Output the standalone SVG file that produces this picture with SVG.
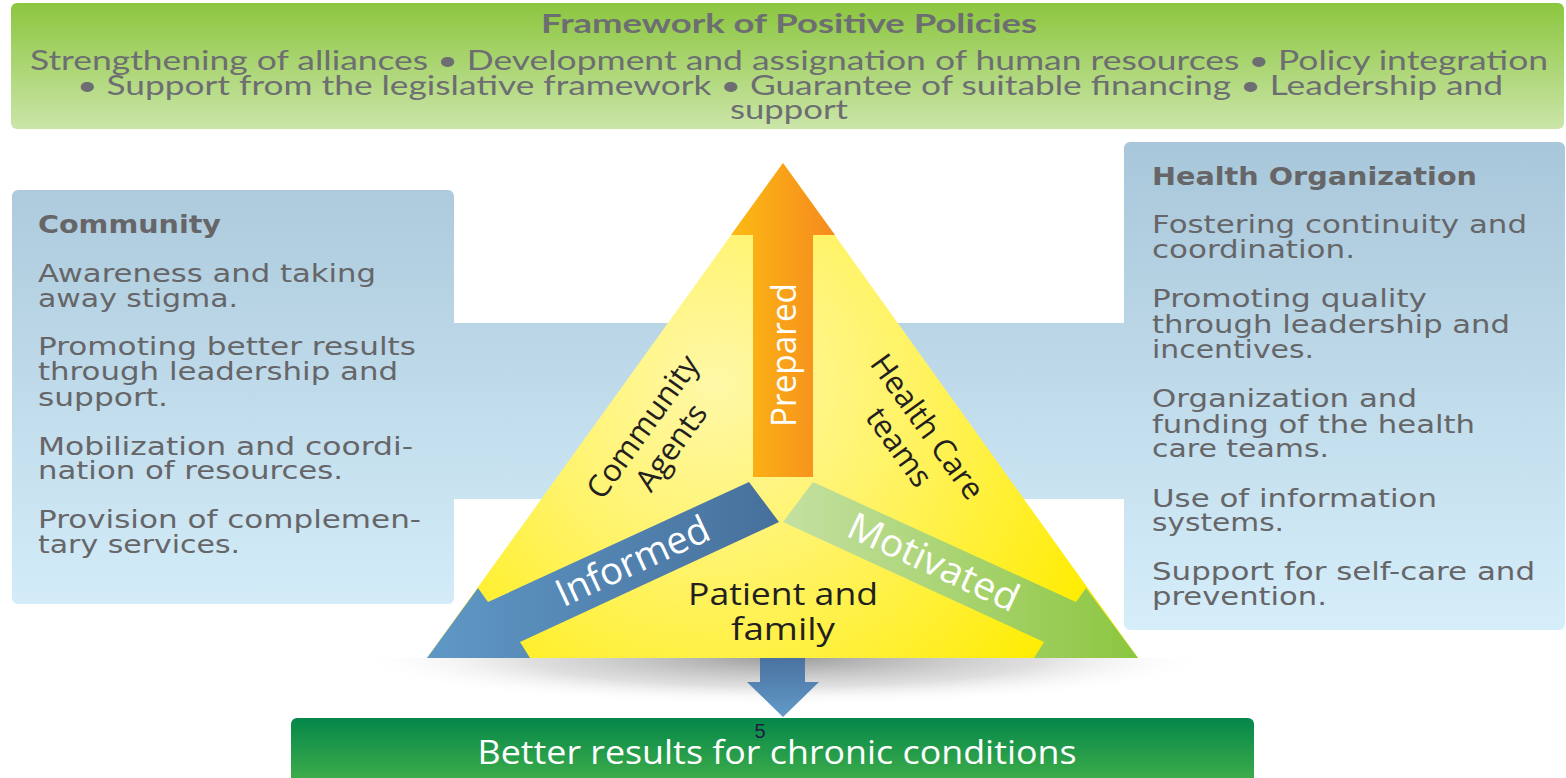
<svg xmlns="http://www.w3.org/2000/svg" width="1566" height="778" viewBox="0 0 1566 778">
  <defs>
    <linearGradient id="gBanner" x1="0" y1="0" x2="0" y2="1">
      <stop offset="0" stop-color="#8cc63f"/>
      <stop offset="1" stop-color="#cbe5a8"/>
    </linearGradient>
    <linearGradient id="gSide" gradientUnits="userSpaceOnUse" x1="0" y1="142" x2="0" y2="630">
      <stop offset="0" stop-color="#a8c7da"/>
      <stop offset="1" stop-color="#d6eefa"/>
    </linearGradient>
    <radialGradient id="gTri" gradientUnits="userSpaceOnUse" cx="715" cy="385" r="430">
      <stop offset="0" stop-color="#fff8a8"/>
      <stop offset="0.45" stop-color="#fff366"/>
      <stop offset="1" stop-color="#ffec00"/>
    </radialGradient>
    <linearGradient id="gOrange" gradientUnits="userSpaceOnUse" x1="731" y1="0" x2="835" y2="0">
      <stop offset="0" stop-color="#fdba13"/>
      <stop offset="1" stop-color="#f58a1f"/>
    </linearGradient>
    <linearGradient id="gBlue" gradientUnits="userSpaceOnUse" x1="427" y1="0" x2="779" y2="0">
      <stop offset="0" stop-color="#5f98c6"/>
      <stop offset="1" stop-color="#47709c"/>
    </linearGradient>
    <linearGradient id="gGreen" gradientUnits="userSpaceOnUse" x1="783" y1="0" x2="1138" y2="0">
      <stop offset="0" stop-color="#c4e0a2"/>
      <stop offset="1" stop-color="#8cc63f"/>
    </linearGradient>
    <linearGradient id="gDown" gradientUnits="userSpaceOnUse" x1="0" y1="658" x2="0" y2="717">
      <stop offset="0" stop-color="#4a72a0"/>
      <stop offset="1" stop-color="#629ac9"/>
    </linearGradient>
    <linearGradient id="gResult" gradientUnits="userSpaceOnUse" x1="0" y1="718" x2="0" y2="778">
      <stop offset="0" stop-color="#04874a"/>
      <stop offset="1" stop-color="#3cab4a"/>
    </linearGradient>
    <radialGradient id="gShadow" gradientUnits="userSpaceOnUse" cx="783" cy="658" r="430" gradientTransform="translate(0 658) scale(1 0.11) translate(0 -658)">
      <stop offset="0" stop-color="#8a8a8a" stop-opacity="0.85"/>
      <stop offset="0.6" stop-color="#b8b8b8" stop-opacity="0.45"/>
      <stop offset="1" stop-color="#ffffff" stop-opacity="0"/>
    </radialGradient>
    <clipPath id="belowBase">
      <rect x="0" y="658" width="1566" height="60"/>
    </clipPath>
  </defs>
  <style>
    .bannerTxt { font-family: Lato, "Open Sans", sans-serif; font-size: 26px; fill: #6d6e71; }
    .bannerTitle { font-family: Lato, "Open Sans", sans-serif; font-size: 27px; font-weight: bold; fill: #6d6e71; }
    .side { font-family: "DejaVu Sans", Verdana, sans-serif; font-size: 25px; fill: #666669; }
    .sideHead { font-family: "DejaVu Sans", Verdana, sans-serif; font-size: 25px; font-weight: bold; fill: #666669; }
    .triDark { font-family: "Open Sans", "Noto Sans", sans-serif; font-size: 31px; fill: #231f20; }
    .triWhite { font-family: "Open Sans", "Noto Sans", sans-serif; fill: #ffffff; }
    .result { font-family: "Open Sans", "Noto Sans", sans-serif; font-size: 32px; fill: #ffffff; }
  </style>

  <!-- policy framework banner -->
  <g id="policy-framework">
    <rect x="11" y="3" width="1553" height="126" rx="6" fill="url(#gBanner)"/>
    <text class="bannerTitle" x="789" y="33" text-anchor="middle" textLength="496" lengthAdjust="spacingAndGlyphs">Framework of Positive Policies</text>
    <text class="bannerTxt" x="30" y="70" textLength="1518" lengthAdjust="spacingAndGlyphs">Strengthening of alliances • Development and assignation of human resources • Policy integration</text>
    <text class="bannerTxt" x="77" y="95" textLength="1426" lengthAdjust="spacingAndGlyphs">• Support from the legislative framework • Guarantee of suitable financing • Leadership and</text>
    <text class="bannerTxt" x="789" y="119" text-anchor="middle" textLength="118" lengthAdjust="spacingAndGlyphs">support</text>
  </g>

  <!-- band linking both side panels behind the triangle -->
  <g id="link-band">
    <rect x="450" y="323" width="680" height="176" fill="url(#gSide)"/>
  </g>

  <!-- community panel -->
  <g id="community">
    <rect x="12" y="190" width="442" height="414" rx="6" fill="url(#gSide)"/>
    <text class="sideHead" x="38" y="233" textLength="183" lengthAdjust="spacingAndGlyphs">Community</text>
    <text class="side" x="38" y="282" textLength="338" lengthAdjust="spacingAndGlyphs">Awareness and taking</text>
    <text class="side" x="38" y="307" textLength="200" lengthAdjust="spacingAndGlyphs">away stigma.</text>
    <text class="side" x="38" y="355" textLength="378" lengthAdjust="spacingAndGlyphs">Promoting better results</text>
    <text class="side" x="38" y="380" textLength="360" lengthAdjust="spacingAndGlyphs">through leadership and</text>
    <text class="side" x="38" y="406" textLength="130" lengthAdjust="spacingAndGlyphs">support.</text>
    <text class="side" x="38" y="455" textLength="375" lengthAdjust="spacingAndGlyphs">Mobilization and coordi-</text>
    <text class="side" x="38" y="479" textLength="305" lengthAdjust="spacingAndGlyphs">nation of resources.</text>
    <text class="side" x="38" y="528" textLength="383" lengthAdjust="spacingAndGlyphs">Provision of complemen-</text>
    <text class="side" x="38" y="553" textLength="202" lengthAdjust="spacingAndGlyphs">tary services.</text>
  </g>

  <!-- health organization panel -->
  <g id="health-organization">
    <rect x="1124" y="142" width="441" height="488" rx="6" fill="url(#gSide)"/>
    <text class="sideHead" x="1152" y="185" textLength="325" lengthAdjust="spacingAndGlyphs">Health Organization</text>
    <text class="side" x="1152" y="233" textLength="375" lengthAdjust="spacingAndGlyphs">Fostering continuity and</text>
    <text class="side" x="1152" y="258" textLength="203" lengthAdjust="spacingAndGlyphs">coordination.</text>
    <text class="side" x="1152" y="307" textLength="275" lengthAdjust="spacingAndGlyphs">Promoting quality</text>
    <text class="side" x="1152" y="333" textLength="358" lengthAdjust="spacingAndGlyphs">through leadership and</text>
    <text class="side" x="1152" y="358" textLength="162" lengthAdjust="spacingAndGlyphs">incentives.</text>
    <text class="side" x="1152" y="407" textLength="265" lengthAdjust="spacingAndGlyphs">Organization and</text>
    <text class="side" x="1152" y="433" textLength="323" lengthAdjust="spacingAndGlyphs">funding of the health</text>
    <text class="side" x="1152" y="457" textLength="177" lengthAdjust="spacingAndGlyphs">care teams.</text>
    <text class="side" x="1152" y="507" textLength="285" lengthAdjust="spacingAndGlyphs">Use of information</text>
    <text class="side" x="1152" y="531" textLength="132" lengthAdjust="spacingAndGlyphs">systems.</text>
    <text class="side" x="1152" y="580" textLength="383" lengthAdjust="spacingAndGlyphs">Support for self-care and</text>
    <text class="side" x="1152" y="605" textLength="175" lengthAdjust="spacingAndGlyphs">prevention.</text>
  </g>

  <!-- care triangle with its three arrows -->
  <g id="care-triangle">
    <ellipse cx="783" cy="658" rx="440" ry="50" fill="url(#gShadow)" clip-path="url(#belowBase)"/>
    <polygon points="783,163 427,658 1138,658" fill="url(#gTri)"/>
    <!-- prepared (up) -->
    <polygon points="783,163 835,235 813,235 813,477 753,477 753,235 731,235" fill="url(#gOrange)"/>
    <!-- informed (down-left) -->
    <polygon points="749,482 488,602 478,588 427,658 530,658 520,642 779,522" fill="url(#gBlue)"/>
    <!-- motivated (down-right) -->
    <polygon points="813,482 1076,602 1086,588 1138,658 1034,658 1044,642 783,522" fill="url(#gGreen)"/>

    <text class="triWhite" font-size="34" transform="translate(796,355) rotate(-90)" text-anchor="middle" textLength="144" lengthAdjust="spacingAndGlyphs">Prepared</text>
    <text class="triWhite" font-size="38" transform="translate(638,573) rotate(-24.8)" text-anchor="middle">Informed</text>
    <text class="triWhite" font-size="38" transform="translate(928,574) rotate(24.8)" text-anchor="middle" textLength="184" lengthAdjust="spacingAndGlyphs">Motivated</text>

    <text class="triDark" transform="translate(657,437) rotate(-54.3)" text-anchor="middle"><tspan x="0" y="-7">Community</tspan><tspan x="0" y="28">Agents</tspan></text>
    <text class="triDark" transform="translate(913,437) rotate(54.3)" text-anchor="middle"><tspan x="0" y="-7">Health Care</tspan><tspan x="0" y="28">teams</tspan></text>

    <text class="triDark" font-size="32" x="783" y="605" text-anchor="middle" textLength="190" lengthAdjust="spacingAndGlyphs">Patient and</text>
    <text class="triDark" font-size="32" x="783" y="640" text-anchor="middle" textLength="104" lengthAdjust="spacingAndGlyphs">family</text>
  </g>

  <!-- flow from the triangle to the outcome -->
  <g id="connectors">
    <polygon points="760,658 805,658 805,682 819,682 783,717 747,682 760,682" fill="url(#gDown)"/>
  </g>

  <!-- outcome box -->
  <g id="outcome">
    <path d="M291,778 V724 a6,6 0 0 1 6,-6 H1248 a6,6 0 0 1 6,6 V778 Z" fill="url(#gResult)"/>
    <text class="result" x="777" y="764" text-anchor="middle" textLength="599" lengthAdjust="spacingAndGlyphs">Better results for chronic conditions</text>
  </g>

  <!-- page number -->
  <g id="page-number">
    <text x="760" y="738" text-anchor="middle" font-family="'Liberation Sans', Arial, sans-serif" font-size="20" fill="#1d1d3f">5</text>
  </g>
</svg>
